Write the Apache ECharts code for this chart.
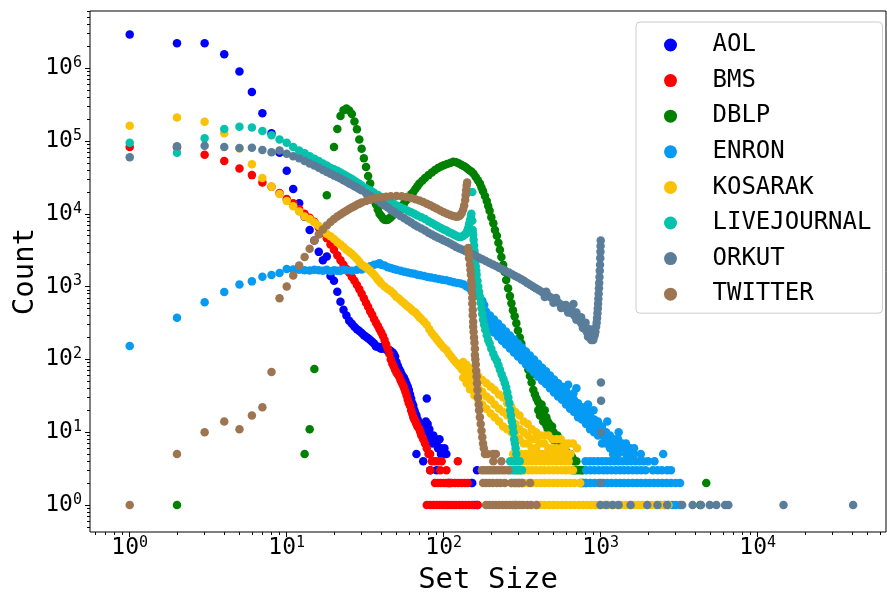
<!DOCTYPE html>
<html><head><meta charset="utf-8">
<script src="https://cdn.jsdelivr.net/npm/echarts@6.0.0/dist/echarts.min.js"></script>
<style>html,body{margin:0;padding:0;background:#fff}#c{width:887px;height:592px}</style>
</head><body><div id="c"></div>
<script>
const seriesNames = ['AOL','BMS','DBLP','ENRON','KOSARAK','LIVEJOURNAL','ORKUT','TWITTER'];
const seriesColors = ['#0000ff','#ff0000','#008000','#069af3','#fac205','#06c2ac','#5a7d9a','#9d7651'];

const AOL = [[1,2900000],[2,2200000],[3,2200000],[4,1550000],[5,900000],[6,470000],[7,240000],[8,128000],[9,69000],[10,39000],[11,22000],[12,14000],[13,9100],[14,6000],[15,4300],[16,3000],[17,2300],[18,2600],[19,1400],[20,1200],[21,850],[22,620],[23,480],[24,400],[25,340],[26,310],[27,280],[28,260],[29,245],[30,230],[31,215],[32,205],[33,195],[34,185],[35,175],[36,165],[37,150],[38,150],[39,145],[40,140],[41,150],[42,140],[43,145],[44,130],[45,135],[46,130],[47,125],[48,120],[49,110],[50,92],[51,82],[52,74],[53,68],[54,62],[55,58],[56,55],[57,50],[58,46],[59,42],[60,38],[61,33],[62,29],[63,25],[64,23],[65,20],[66,18],[67,17],[68,15],[69,14],[70,13],[71,12],[72,11],[73,10],[75,11],[77,14],[78,29],[79,13],[80,10],[81,11],[82,9],[83,8],[85,7],[86,9],[88,8],[90,7],[92,6],[94,8],[96,6],[98,5],[101,6],[104,5],[67,5],[74,4],[96,5],[82,3],[90,3],[163,3],[107,2],[110,2],[150,2],[152,2],[157,1],[163,1]];

const BMS = [[1,83000],[2,82000],[3,65000],[4,53000],[5,42000],[6,34000],[7,27000],[8,23500],[9,19300],[10,16000],[11,14000],[12,11600],[13,10000],[14,8800],[15,7800],[16,6500],[17,5500],[18,4600],[19,3800],[20,3200],[21,2700],[22,2300],[23,2000],[24,1750],[25,1550],[26,1350],[27,1200],[28,1050],[29,920],[30,800],[31,690],[32,600],[33,530],[34,460],[35,410],[36,360],[37,320],[38,290],[39,260],[40,235],[41,210],[42,185],[43,160],[44,140],[45,120],[46,100],[47,88],[48,80],[49,72],[50,66],[51,62],[52,58],[53,52],[54,48],[55,44],[56,40],[57,36],[58,32],[59,28],[60,25],[61,23],[62,20],[63,18],[64,16],[65,15],[66,14],[67,13],[68,12],[70,11],[71,10],[72,9],[74,8],[76,7],[78,6],[80,5],[82,5],[84,4],[88,4],[92,4],[97,4],[123,4],[82,3],[95,3],[104,3],[88,2],[92,2],[96,2],[100,2],[104,2],[108,2],[112,2],[118,2],[124,2],[130,2],[136,2],[142,2],[78,1],[82,1],[86,1],[90,1],[94,1],[98,1],[102,1],[106,1],[110,1],[115,1],[120,1],[126,1],[132,1],[138,1],[145,1],[152,1],[165,1]];

const DBLP = [[2,1],[13,5],[14,11],[15,74],[18,18000],[20,83000],[21,146000],[22,220000],[23,265000],[24,280000],[25,262000],[26,235000],[27,185000],[28,145000],[29,105000],[30,78000],[31,58000],[32,44000],[33,33000],[34,26000],[35,20000],[36,16000],[37,13500],[38,11500],[39,10000],[40,9300],[41,8700],[42,8300],[43,8200],[44,8300],[45,8600],[46,9000],[47,9400],[48,9800],[49,10200],[50,10600],[52,11500],[54,12800],[56,14000],[58,15500],[60,17000],[62,18500],[64,20000],[66,22000],[68,24000],[70,26000],[73,28500],[76,31000],[80,34000],[84,37000],[88,40000],[92,42500],[96,44500],[100,46500],[105,48500],[110,50000],[115,52000],[120,51000],[125,49000],[130,47000],[135,45000],[140,42500],[145,40000],[150,38000],[155,35500],[160,32000],[165,29000],[170,26000],[174,23000],[178,20400],[183,17500],[188,15000],[192,12800],[196,11000],[201,9000],[207,7400],[212,6000],[218,5000],[223,4000],[228,3200],[233,2550],[239,2000],[244,1600],[250,1230],[257,950],[264,740],[270,590],[276,475],[283,390],[290,315],[297,250],[305,200],[312,165],[320,134],[329,110],[338,89],[346,72],[354,59],[363,48],[372,38],[381,33],[390,29],[400,26],[410,23],[420,20],[430,18],[440,15],[450,12.5],[460,11],[470,9.7],[485,8.7],[500,7.8],[400,20],[410,17],[420,24],[430,14],[440,20],[450,16],[460,14],[470,13],[480,11],[490,12],[500,10],[510,9],[520,8.5],[530,9],[540,7],[550,8],[560,6.5],[570,7],[580,6],[600,5.5],[620,5],[640,5],[660,4.5],[680,4],[700,4],[665,3],[690,3],[720,3],[750,3],[770,3],[740,2],[770,2],[800,2],[4700,2],[4300,1]];

const ENRON = [[1,153],[2,374],[3,608],[4,843],[5,1070],[6,1180],[7,1370],[8,1440],[9,1540],[10,1750],[11,1720],[12,1700],[13,1680],[14,1660],[15,1700],[16,1680],[17,1650],[18,1700],[19,1620],[20,1680],[21,1650],[22,1650],[23,1700],[24,1680],[26,1650],[28,1700],[30,1720],[32,1800],[34,1900],[36,2000],[38,2050],[39,2100],[40,2000],[42,1950],[44,1850],[46,1800],[48,1750],[50,1700],[53,1650],[56,1600],[59,1560],[62,1520],[65,1500],[68,1460],[71,1430],[75,1400],[79,1360],[83,1330],[88,1300],[93,1270],[98,1240],[104,1220],[110,1180],[116,1150],[122,1120],[128,1100],[134,1070],[140,1000],[146,950],[152,900],[158,840],[164,780],[170,710],[176,640],[181,560],
[186,455],[186,370],[186,301],[197,401],[197,326],[197,265],[209,354],[209,288],[209,234],[222,312],[222,254],[222,206],[235,274],[235,223],[235,181],[249,242],[249,197],[249,160],[264,213],[264,173],[264,141],[280,188],[280,153],[280,124],[297,166],[297,135],[297,110],[315,146],[315,119],[315,97],[334,128],[334,104],[334,85],[354,113],[354,92],[354,75],[376,100],[376,81],[376,66],[399,87],[399,71],[399,58],[423,77],[423,63],[423,51],[448,69],[448,56],[448,46],[475,60],[475,49],[475,40],[504,53],[504,43],[504,35],[535,47],[535,38],[535,31],[567,42],[567,34],[567,28],[601,37],[601,30],[601,24],[638,32],[638,26],[638,21],[676,28],[676,23],[676,19],[717,25],[717,20],[717,16],[760,22],[760,18],[760,15],[806,20],[806,16],[806,13],[855,17],[855,14],[855,11],[907,15],[907,12],[907,10],[961,14],[961,11],[961,9],[1019,12],[1019,9],[1019,7],[1081,10],[1081,8],[1081,7],[1146,9],[1146,7],[1146,6],[1215,8],[1215,7],[1215,5],[1289,8],[1289,6],[1289,5],[1367,7],[1367,6],[1449,7],[1449,6],[1537,6],[1537,5],[1630,6],[1630,5],
[550,42],[670,34],[830,24],[620,45],[900,20],[700,40],[1100,14],[1300,10],[2500,5],[1200,5],[1450,5],[1600,5],[1800,5],
[800,4],[850,4],[900,4],[960,4],[1020,4],[1080,4],[1150,4],[1220,4],[1300,4],[1380,4],[1470,4],[1560,4],[1660,4],[1760,4],[1870,4],[2000,4],[2200,4],[810,3],[860,3],[915,3],[975,3],[1040,3],[1100,3],[1170,3],[1250,3],[1330,3],[1410,3],[1500,3],[1600,3],[1700,3],[1810,3],[1930,3],[2150,3],[2300,3],[2450,3],[2650,3],[2800,3],[760,2],[810,2],[860,2],[915,2],[975,2],[1040,2],[1100,2],[1170,2],[1250,2],[1330,2],[1410,2],[1500,2],[1600,2],[1700,2],[1810,2],[1930,2],[2050,2],[2180,2],[2320,2],[2470,2],[2630,2],[2800,2],[3000,2],[3200,2],[2400,1],[2550,1],[2700,1],[2850,1],[3000,1],[3200,1]];

const KOSARAK = [[1,162000],[2,210000],[3,184000],[4,128000],[5,79000],[6,48000],[7,31000],[8,23600],[9,18700],[10,15000],[11,12700],[12,10800],[13,9200],[14,8500],[15,7600],[16,6800],[17,6000],[18,5300],[19,4900],[20,4500],[21,4100],[22,3800],[23,3500],[24,3200],[25,3000],[26,2800],[27,2600],[28,2400],[29,2200],[30,2000],[31,1920],[32,1850],[33,1750],[34,1650],[35,1550],[36,1450],[37,1350],[38,1250],[39,1180],[40,1100],[42,1000],[44,930],[46,870],[48,800],[50,720],[52,680],[54,630],[56,590],[58,550],[60,520],[62,490],[64,460],[66,440],[68,410],[70,380],[72,360],[75,330],[78,300],[81,260],[84,230],[87,210],[90,190],[93,175],[96,160],[100,145],[104,135],[108,120],[112,108],[116,98],[120,90],[125,82],[130,74],
[133,92],[133,71],[133,56],[140,84],[140,63],[140,47],[147,74],[147,54],[147,39],[157,65],[157,46],[157,32],[166,59],[166,40],[166,28],[176,52],[176,36],[176,24],[187,47],[187,31],[187,21],[199,42],[199,28],[199,18],[211,38],[211,24],[211,16],[225,33],[225,21],[225,14],[239,30],[239,19],[239,12],[254,25],[254,17],[254,11],[270,22],[270,15],[270,10],[286,19],[286,13],[286,9],[304,17],[304,11],[304,8],[323,14],[323,10],[323,7],[343,13],[343,9],[343,7],[364,11],[364,8],[364,6],[387,10],[387,8],[387,6],[411,9],[411,7],[411,5],[437,9],[437,7],[464,9],[464,6],[493,8],[493,6],[523,8],[523,6],[556,8],[556,6],[590,7],[590,6],[627,7],[627,5],[666,7],[707,6],
[277,5],[295,5],[313,5],[333,5],[354,5],[376,5],[400,5],[425,5],[450,5],[480,5],[510,5],[545,5],[580,5],[640,5],[285,4],[303,4],[322,4],[342,4],[363,4],[385,4],[410,4],[435,4],[462,4],[490,4],[520,4],[555,4],[590,4],[625,4],[290,3],[308,3],[327,3],[347,3],[368,3],[390,3],[415,3],[440,3],[470,3],[500,3],[530,3],[565,3],[600,3],[635,3],[665,3],[305,2],[325,2],[345,2],[365,2],[390,2],[415,2],[440,2],[470,2],[500,2],[530,2],[565,2],[600,2],[640,2],[680,2],[740,2],[390,1],[415,1],[440,1],[470,1],[500,1],[530,1],[565,1],[600,1],[640,1],[680,1],[725,1],[770,1],[820,1],[870,1],[925,1],[985,1],[1050,1],[1120,1],[1190,1],[1270,1],[1350,1],[1440,1],[1530,1],[1630,1],[1740,1],[1850,1],[1970,1],[2100,1],[2240,1],[2390,1],[2550,1],[2700,1]];

const LIVEJOURNAL = [[1,95000],[2,69000],[3,109000],[4,146000],[5,157000],[6,153000],[7,137000],[8,120000],[9,105000],[10,95000],[11,83000],[12,74000],[13,68000],[14,62000],[15,57000],[16,53000],[17,49000],[18,46000],[19,43000],[20,41000],[21,39000],[22,37000],[23,35000],[24,33000],[25,31500],[26,30000],[27,28500],[28,27000],[29,25800],[30,24500],[32,22500],[34,21000],[36,19500],[38,18200],[40,17000],[42,16000],[44,15200],[46,14500],[48,13700],[50,13000],[53,12300],[56,11600],[59,11000],[62,10500],[65,10000],[68,9500],[72,9000],[76,8500],[80,7900],[84,7500],[88,7100],[92,6700],[96,6400],[100,6100],[104,5900],[108,5600],[112,5400],[116,5200],[120,5000],[124,4850],[128,4800],[132,4900],[135,5100],[138,5300],[141,5800],[143,6400],[145,7200],[147,8200],[149,9300],[150,10000],[152,20000],[152,8000],[153,6000],[154,5200],[155,4400],[156,3700],[157,3100],[158,2600],[159,2200],[160,1900],[161,1650],[162,1450],[164,1200],[166,1000],[168,850],[170,720],[172,600],[174,500],[176,420],[178,350],[181,300],[184,255],[188,215],[192,185],[196,165],[201,140],[207,120],[212,105],[218,95],[223,83],[228,72],[234,62],[240,54],[245,47],[250,41],[254,35],[258,30],[262,25],[265,20],[268,17],[272,14],[275,12],[278,10],[281,8],[284,7],[287,6],[290,5],[265,4],[275,4],[285,4],[295,4],[305,4],[265,3],[275,3],[285,3],[295,3],[305,3],[315,3],[270,2],[280,2],[290,2],[300,2],[315,2],[285,1]];

const ORKUT = [[1,60000],[2,85000],[3,86000],[4,83000],[5,80000],[6,81000],[7,75000],[8,70000],[9,74000],[10,67000],[11,62000],[12,58000],[13,53000],[14,49000],[15,46000],[16,43000],[17,40000],[18,37500],[19,35500],[20,33500],[21,32000],[22,30500],[23,29000],[24,27500],[25,26000],[26,25000],[27,24000],[28,23000],[29,22000],[30,21000],[32,19200],[34,17800],[36,16500],[38,15200],[40,14000],[42,13000],[44,12200],[46,11400],[48,10700],[50,10000],[53,9300],[56,8700],[59,8100],[62,7600],[65,7100],[68,6700],[72,6300],[76,5900],[80,5500],[84,5200],[88,4900],[92,4700],[96,4500],[100,4300],[105,4100],[110,3900],[115,3700],[120,3500],[126,3350],[132,3200],[138,3050],[145,2900],[152,2780],[160,2650],[168,2500],[176,2380],[185,2250],[195,2130],[205,2020],[215,1920],[225,1820],[236,1730],[248,1640],[260,1560],[272,1480],[285,1400],[298,1330],[312,1260],[326,1190],[340,1120],[355,1060],[370,1000],[386,950],[403,900],[420,850],[438,800],[457,760],[476,720],[496,680],[517,640],[538,600],[560,565],[583,530],[606,495],[630,460],[655,430],[670,575],[680,400],[705,370],[730,340],[755,310],[780,280],[800,255],[820,235],[840,215],[860,200],[880,192],[900,198],[915,215],[925,240],[935,280],[942,320],[948,370],[953,430],[958,500],[962,580],[966,680],[970,800],[974,950],[978,1120],[982,1350],[986,1650],[990,2000],[993,2450],[996,3000],[998,3600],[1000,4300],[450,850],[520,700],[600,560],[650,500],[700,440],[750,380],[800,320],[850,260],[880,240],[900,230],[440,720],[500,600],[560,510],[620,440],[700,350],[770,270],[830,205],[870,185],[895,185],[1003,48],[1005,27],[1007,10],[1002,2],[996,1],[1085,1],[1190,1],[1300,1],[1550,1],[1980,1],[2300,1],[2650,1],[3300,1],[3850,1],[4350,1],[4950,1],[5450,1],[6200,1],[6500,1],[14600,1],[40500,1]];

const TWITTER = [[1,1],[2,5],[3,10],[4,14],[5,11],[6,17],[7,22],[8,67],[9,690],[10,1000],[11,1420],[12,1950],[13,2550],[14,3300],[15,4300],[16,5200],[17,6100],[18,6900],[19,7700],[20,8500],[21,9200],[22,9800],[23,10400],[24,11000],[25,11600],[26,12200],[27,12700],[28,13300],[29,13800],[30,14300],[32,15000],[34,15600],[36,16200],[38,16600],[40,16900],[43,17200],[46,17400],[50,17500],[54,17400],[58,17000],[62,16500],[66,15900],[70,15200],[74,14500],[78,13800],[82,13100],[86,12400],[90,11800],[95,11100],[100,10500],[105,10000],[110,9600],[115,9300],[120,9100],[124,9200],[127,9500],[130,10200],[133,11500],[135,13000],[137,15500],[138,18000],[139,21000],[140,24500],[141,27000],[143,3400],[144,2900],[145,2450],[147,2000],[148,1700],[149,1450],[150,1200],[151,1000],[151,850],[152,700],[152,580],[153,480],[153,400],[154,330],[154,280],[155,240],[156,200],[157,170],[158,140],[158,115],[159,100],[160,85],[161,70],[162,58],[163,47],[164,38],[165,30],[167,24],[168,20],[170,16],[172,13],[174,10.5],[176,8.5],[178,7],[180,6],[183,5],[190,5],[206,5],[215,5],[233,4],[207,4],[175,3],[182,3],[190,3],[198,3],[206,3],[215,3],[225,3],[235,3],[245,3],[258,3],[178,2],[186,2],[195,2],[205,2],[218,2],[230,2],[245,2],[270,2],[285,2],[300,2],[315,2],[355,2],[186,1],[195,1],[205,1],[215,1],[225,1],[238,1],[250,1],[262,1],[275,1],[290,1],[305,1],[320,1],[340,1],[360,1],[390,1]];

const seriesData = [AOL, BMS, DBLP, ENRON, KOSARAK, LIVEJOURNAL, ORKUT, TWITTER];
const xTickValues = [1, 10, 100, 1000, 10000];
const yTickValues = [1, 10, 100, 1000, 10000, 100000, 1000000];

const FONT = 'DejaVu Sans Mono';
const xMin = Math.pow(10, -0.253), xMax = Math.pow(10, 4.817);
const yMin = Math.pow(10, -0.371), yMax = Math.pow(10, 6.786);

function minorTicks(lo, hi) {
  const out = [];
  for (let k = -2; k <= 7; k++) {
    for (let m = 2; m <= 9; m++) {
      const v = m * Math.pow(10, k);
      if (v > lo && v < hi) out.push(v);
    }
  }
  return out;
}
const xMinor = minorTicks(xMin, xMax);
const yMinor = minorTicks(yMin, yMax);

function powLabel(v) {
  const e = Math.round(Math.log10(v));
  return '{b|10}{s|' + e + '}';
}
const richLabel = {
  b: { fontFamily: FONT, fontSize: 23, color: '#000' },
  s: { fontFamily: FONT, fontSize: 15, color: '#000', padding: [0, 0, 10, 0] }
};

const chart = echarts.init(document.getElementById('c'), null, { renderer: 'canvas' });
const option = {
  animation: false,
  backgroundColor: '#fff',
  grid: { left: 90, right: 1, top: 11, bottom: 60, show: true, borderColor: '#000', borderWidth: 1, containLabel: false, outerBoundsMode: 'none' },
  legend: {
    orient: 'vertical', left: 636, top: 22,
    icon: 'circle', itemWidth: 26, itemHeight: 13, itemGap: 11.6,
    padding: [11, 11, 7, 28],
    borderColor: '#cccccc', borderWidth: 1, borderRadius: 4,
    backgroundColor: 'rgba(255,255,255,0.8)',
    textStyle: { fontFamily: FONT, fontSize: 24, color: '#000', lineHeight: 24, padding: [0, 0, 0, 24] },
    data: seriesNames
  },
  xAxis: [
    {
      type: 'log', logBase: 10, min: xMin, max: xMax, position: 'bottom',
      name: 'Set Size', nameLocation: 'middle', nameGap: 34, nameMoveOverlap: false,
      nameTextStyle: { fontFamily: FONT, fontSize: 29, color: '#000' },
      axisLine: { show: false }, splitLine: { show: false },
      axisTick: { show: true, length: 5, customValues: xTickValues, lineStyle: { color: '#000', width: 1 } },
      axisLabel: { customValues: xTickValues, formatter: powLabel, rich: richLabel, margin: 4 }
    },
    {
      type: 'log', logBase: 10, min: xMin, max: xMax, position: 'bottom',
      axisLine: { show: false }, splitLine: { show: false },
      axisTick: { show: true, length: 3, customValues: xMinor, lineStyle: { color: '#000', width: 1 } },
      axisLabel: { show: false }
    }
  ],
  yAxis: [
    {
      type: 'log', logBase: 10, min: yMin, max: yMax, position: 'left',
      name: 'Count', nameLocation: 'middle', nameGap: 50, nameMoveOverlap: false,
      nameTextStyle: { fontFamily: FONT, fontSize: 29, color: '#000' },
      axisLine: { show: false }, splitLine: { show: false },
      axisTick: { show: true, length: 5, customValues: yTickValues, lineStyle: { color: '#000', width: 1 } },
      axisLabel: { customValues: yTickValues, formatter: powLabel, rich: richLabel, margin: 8 }
    },
    {
      type: 'log', logBase: 10, min: yMin, max: yMax, position: 'left',
      axisLine: { show: false }, splitLine: { show: false },
      axisTick: { show: true, length: 3, customValues: yMinor, lineStyle: { color: '#000', width: 1 } },
      axisLabel: { show: false }
    }
  ],
  series: seriesNames.map((name, i) => ({
    name: name,
    type: 'scatter',
    xAxisIndex: 0, yAxisIndex: 0,
    symbol: 'circle',
    symbolSize: 8.5,
    itemStyle: { color: seriesColors[i], opacity: 1 },
    emphasis: { disabled: true },
    data: seriesData[i]
  }))
};
chart.setOption(option);
</script>
</body></html>
